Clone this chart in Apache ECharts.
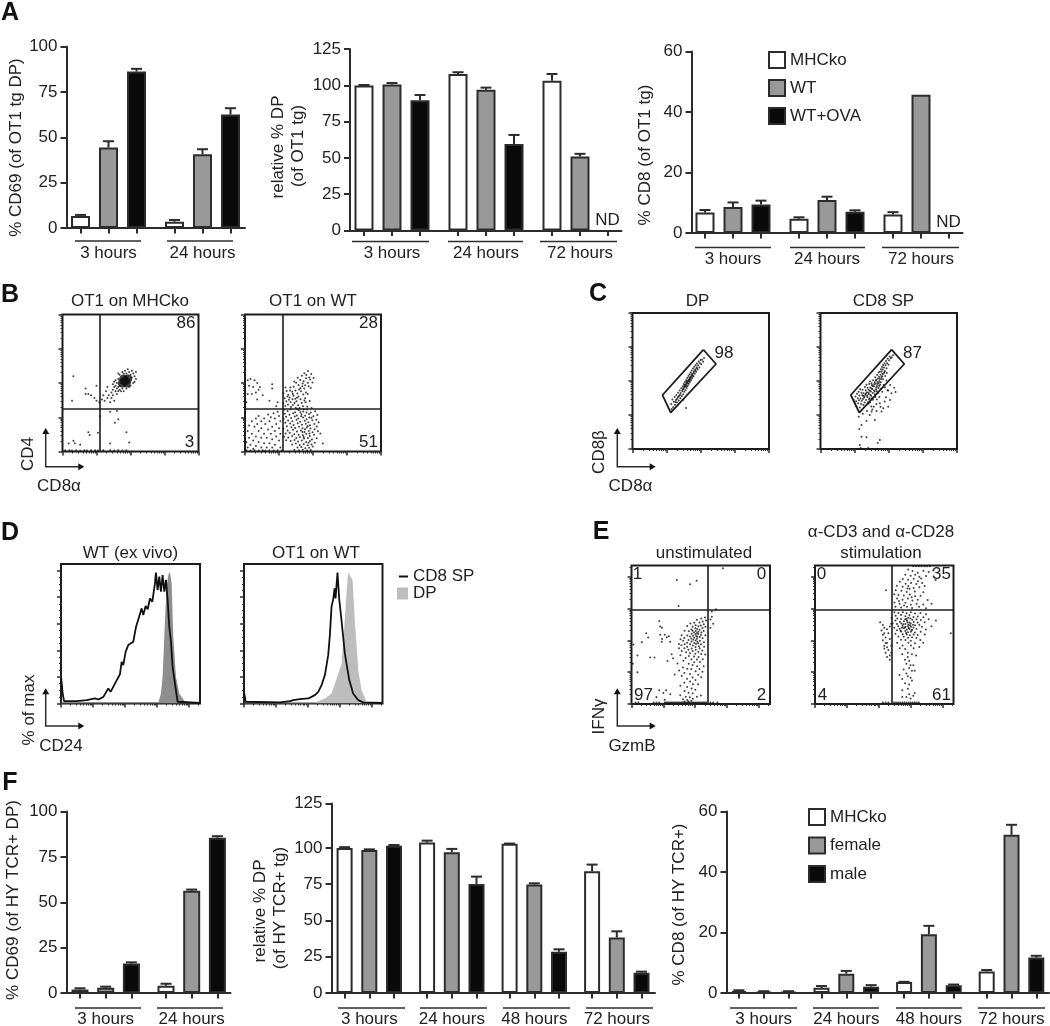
<!DOCTYPE html>
<html>
<head>
<meta charset="utf-8">
<title>OT1 and HY TCR thymocyte panels</title>
<script src="https://cdn.jsdelivr.net/npm/echarts@6/dist/echarts.min.js"></script>
<style>html,body{margin:0;padding:0;background:#fff}#c{width:1050px;height:1026px}</style>
</head>
<body>
<div id="c"></div>
<script>
// ---------- data: panel A ----------
const hoursA1 = ['3 hours', '24 hours'];
const hoursA = ['3 hours', '24 hours', '72 hours'];
const a1Ko = [6.6, 3.5],  a1KoErr = [7.2, 4.4];
const a1Wt = [44.3, 40.6], a1WtErr = [47.8, 43.4];
const a1Ova = [86.2, 62.5], a1OvaErr = [87.7, 66];
const a2Ko = [99.8, 107.8, 103.2], a2KoErr = [100.2, 109, 107.8];
const a2Wt = [100.5, 97, 50.9], a2WtErr = [101.6, 98.4, 52.8];
const a2Ova = [89.7, 59.6, null], a2OvaErr = [93.3, 65.8, null];
const a3Ko = [6.8, 4.7, 6.1], a3KoErr = [7.6, 5.2, 6.9];
const a3Wt = [8.6, 10.9, 45.7], a3WtErr = [10.1, 12, 45.7];
const a3Ova = [9.4, 7, null], a3OvaErr = [10.7, 7.5, null];
// ---------- data: panel F ----------
const hoursF1 = ['3 hours', '24 hours'];
const hoursF = ['3 hours', '24 hours', '48 hours', '72 hours'];
const f1Ko = [1.9, 4], f1KoErr = [2.6, 5.1];
const f1Fem = [2.9, 56.3], f1FemErr = [3.5, 57];
const f1Male = [16.2, 85.5], f1MaleErr = [16.9, 86.4];
const f2Ko = [100, 103.7, 102.8, 83.9], f2KoErr = [100.5, 105, 103, 88.5];
const f2Fem = [98.6, 97, 74.7, 38.2], f2FemErr = [99, 99.3, 75.6, 42.5];
const f2Male = [101.4, 75.2, 28.5, 14], f2MaleErr = [102, 80.2, 30.1, 14.7];
const f3Ko = [0.6, 1.7, 3.6, 7.1], f3KoErr = [0.9, 2.3, 3.7, 7.6];
const f3Fem = [0.4, 6.4, 19.4, 52.3], f3FemErr = [0.6, 7.3, 22.2, 55.6];
const f3Male = [0.4, 2.1, 2.6, 11.7], f3MaleErr = [0.6, 2.6, 2.8, 12.3];
const f2TickValues = [0, 25, 50, 75, 100, 130.6];   // the reference draws its top tick, labelled 125, out of scale
const f2TickLabels = ['0', '25', '50', '75', '100', '125'];

// ---------- data: flow cytometry dots, read as % of each plot's width / height ----------
const b1Core = [[46,51.6],[44,50],[48,53],[45,53],[47,50]];
const b1Dots = [[8,55],[7,37],[17,46],[19,42],[17,42],[21,41],[23.5,39],[25,37],[25,48],[27,36],[29,38],[30,41],[31,37],[32,44],[33,39],[33,47],[34,41],[35,36],[36,43],[36,39],[37,45],[37,41],[38,47],[38,37],[39,44],[39,48],[40,42],[40,46],[40,50],[41,47],[41,44],[41,53],[42,48],[42,45],[42,56],[43,44],[43,50],[44,58],[44,46],[45,44],[45,57],[46,59],[47,46],[47,57],[48,60],[49,47],[49,58],[50,56],[50,48],[51,59],[51,54],[52,50],[52,57],[53,55],[53,51],[54,58],[54,53],[39,52],[38,51],[37,49],[41,57],[35,29],[40,29.5],[38.5,21],[41,23.6],[27.6,25.8],[47,14],[19,14],[20,12],[26,13.6],[9,6],[13,5],[4.5,5.8],[8,7.8],[35,5.8],[49,6.6],[2,1],[5,1],[7,.8],[10,1],[13,.8],[16,1],[18,.8],[21,1],[24,1],[26,.8],[30,1],[35,1],[38,.8],[41,1],[44,.8],[47,1]];
const b2Dots = [[2,52],[4,53],[7,52],[9,50],[3,48],[6,47],[10,45],[11,47],[8,43],[5,42],[13,41],[20,49],[20,46],[2,42],[1,36],[9,38],[18,37],[24,36],[23,33],
[46.3,58.8],[48.7,56.6],[43.6,57.2],[47.2,54.1],[41.8,55.3],[44.9,53.4],[50.4,53.7],[40.6,52.2],[43.1,51.3],[47.9,52.6],[49.6,50.4],[38.7,53.8],[42.4,49.7],[46.2,50.1],[45.1,55.8],[36.2,51.1],[39.4,48.6],[44.3,48.4],[46.8,47.7],[35.8,47.2],[40.7,46.1],[43.5,45.9],[48.3,46.4],[33.4,46.8],[37.1,44.6],[41.2,43.9],[44.8,43.1],[30.6,44.2],[34.7,43.7],[38.5,42.3],[42.9,41.6],[46.1,41.9],[28.3,42.4],[31.9,41.5],[35.6,40.7],[39.3,40.2],[32.8,39.4],[36.9,38.5],[40.8,38.1],[43.7,37.3],[29.2,38.9],[30.4,36.6],[33.5,36.2],[34.9,38.1],[37.8,36.7],[41.7,35.4],[44.6,35.9],[47.5,36.8],[28.1,35.2],[31.6,34.3],[35.2,33.9],[39.1,33.7],[42.6,33.1],[45.8,32.6],[29.7,33.2],[33.8,32.4],[37.3,31.9],[40.1,31.8],[48.9,31.7],[36.4,35.4],[32.2,37.8],[38.2,39.3],[35.1,41.9],[33.1,44.6],[39.8,45.2],[37.6,50.2],[42.1,47.6],[44.2,38.9],[31.2,40.1],[29.8,46.7],
[28.6,30.4],[31.3,29.6],[33.7,30.8],[36.8,28.7],[39.6,30.1],[42.8,29.2],[45.7,30.6],[48.4,28.4],[51.6,29.3],[29.3,27.6],[32.7,26.8],[35.4,27.9],[38.1,26.3],[41.5,27.2],[44.2,26.1],[47.1,27.4],[50.3,25.8],[53.2,26.7],[30.2,25.3],[33.9,24.4],[36.6,25.6],[39.2,24.1],[42.7,24.9],[45.3,23.6],[48.8,24.7],[52.4,23.1],[28.4,23.7],[31.7,22.6],[34.8,22.1],[37.9,23.2],[40.6,21.8],[43.9,22.4],[46.6,21.3],[49.5,22.8],[54.1,21.4],[29.6,20.9],[33.2,20.4],[35.7,19.3],[38.8,20.7],[41.9,19.6],[44.7,20.2],[47.8,19.1],[50.9,20.1],[52.8,18.3],[30.8,18.4],[34.1,17.7],[36.9,17.2],[39.7,18.1],[42.3,16.9],[45.4,17.6],[48.1,16.7],[51.2,16.3],[28.2,16.6],[31.4,15.4],[35.3,15.8],[38.2,14.6],[41.1,15.3],[43.8,14.2],[46.9,14.9],[49.7,14.1],[53.6,14.7],[55.4,13.1],[29.9,13.2],[32.9,13.7],[36.2,12.6],[39.4,12.3],[42.6,11.9],[45.1,12.7],[47.6,11.4],[50.8,12.2],[28.7,10.8],[31.8,10.2],[34.6,11.3],[37.7,9.8],[40.4,10.6],[43.4,9.4],[46.3,9.9],[49.2,8.7],[52.7,9.6],[30.3,8.2],[33.6,7.7],[36.4,8.4],[39.1,7.3],[41.8,8.1],[44.9,6.9],[47.7,7.6],[51.3,6.4],[34.7,5.2],[37.4,5.9],[40.2,4.7],[43.2,5.4],[46.1,4.6],[48.9,5.1],[57.2,5.8],[38.6,2.9],[41.4,3.2],[44.4,2.4],[47.2,2.8],[49.8,3.6],[36.3,1.1],[39.7,.9],[42.5,1.2],[45.6,.8],[48.4,1.1],[43.3,30.9],[45.2,28.4],[41.3,25.7],[46.2,18.6],[44.1,16.3],[47.4,13.2],[43.1,10.6],[46.7,6.3],[42.2,14.2],[40.7,28.6],[38.4,31.1],[47.3,24.9],
[24,29],[21,28],[17,27],[10,26],[25,26],[19,25],[8,24],[14,24],[22,24],[5,22],[12,22],[18,22],[26,22],[9,20],[15,20],[23,20],[3,19],[20,18],[7,18],[12,17],[25,17],[17,16],[2,15],[10,15],[22,15],[5,13],[14,13],[19,13],[26,13],[8,11],[12,10],[23,11],[3,10],[16,10],[20,9],[6,8],[10,7],[25,8],[1,7],[14,6],[18,6],[4,5],[8,4],[22,5],[12,3],[16,3],[2,3],[6,2],[20,3],[26,3],[1,1],[4,.8],[7,1],[10,.8],[13,1],[15,.8],[18,1],[21,.8],[24,1],[27,.8]];
const c1Dots = [[28.4,33.1],[29.2,36.4],[29.8,30.7],[30.3,34.8],[30.9,38.2],[31.2,32.6],[31.8,36.1],[32.1,39.7],[32.6,34.2],[33.1,37.6],[33.4,41.3],[33.9,35.7],[34.2,39.2],[34.6,43.1],[35.1,37.3],[35.3,41.2],[35.7,44.6],[36.1,38.9],[36.4,42.7],[36.8,46.2],[37.1,40.3],[37.3,44.2],[37.6,47.8],[37.9,42.1],[38.2,45.7],[38.4,49.3],[38.8,43.4],[39,47.1],[39.3,50.6],[39.6,44.8],[39.9,48.5],[40.1,52.2],[40.4,46.4],[40.7,50.1],[41,53.6],[41.2,47.9],[41.5,51.3],[41.8,54.9],[42.1,49.2],[42.3,52.8],[42.6,56.3],[42.9,50.7],[43.2,54.1],[43.4,57.8],[43.8,52.2],[44,55.4],[44.3,59.1],[44.7,53.5],[45,57.2],[45.2,60.4],[45.6,55.3],[45.9,58.6],[46.2,61.7],[46.6,56.8],[47,60.1],[47.2,62.9],[47.7,58.4],[48.1,61.6],[48.5,64.3],[49,60],[49.4,63.2],[49.8,65.4],[50.3,62.4],[51,65.7],[51.8,64.2],[52.4,67],
[38.5,46.2],[39.2,47.8],[39.7,49.6],[40.3,49],[40.9,50.6],[41.4,49.8],[41.9,52.3],[42.4,51.7],[43,53],[43.5,54.7],[37.5,45],[36.7,43.6],[38,47],[39.5,46.1],[40.6,48],[42,50.8],[44.1,53.9],[44.8,56],[46,57.6],[47.3,59.2],[34.8,39.9],[33.6,38.4],[32.4,36.6],[31.5,34.5],
[39.2,30.1],[28.7,29.4],[37.2,36.2]];
const c2Dots = [[24.3,36.2],[25.2,33.4],[25.6,38.6],[26.1,35.1],[26.4,31.2],[26.8,40.7],[27.3,37.4],[27.6,33.6],[27.9,42.1],[28.2,35.8],[28.5,39.3],[28.8,30.6],[29.1,44],[29.3,37.1],[29.7,33],[30,41.4],[30.2,35.4],[30.6,39.6],[30.8,43.6],[31.1,36.7],[31.4,32.3],[31.6,41],[32,37.9],[32.3,34.2],[32.5,45.6],[32.9,39.8],[33.1,43.2],[33.4,36],[33.7,47.2],[34,41.7],[34.3,38.2],[34.5,45.1],[34.8,34.4],[35.2,43.6],[35.4,40.4],[35.7,47.8],[36,37.3],[36.2,49.6],[36.5,45.3],[36.9,42.3],[37.1,39.1],[37.4,48.4],[37.7,47],[38,44.1],[38.3,41.2],[38.5,50.5],[38.8,37.8],[39.1,46.2],[39.3,43.1],[39.6,49.1],[39.9,40.3],[40.1,52.7],[40.4,48],[40.7,45.2],[41,50.9],[41.3,42.5],[41.5,54.4],[41.8,47.8],[42.1,51.9],[42.4,44.9],[42.6,56.3],[42.9,53.1],[43.2,50],[43.5,56.8],[43.7,47.2],[44,54.6],[44.3,58.7],[44.5,51.4],[44.8,57],[45.1,60.3],[45.3,53.5],[45.6,58.4],[45.9,61.8],[46.2,55.6],[46.5,59.9],[46.9,63.1],[47.2,57.3],[47.6,61.5],[48,64.7],[48.4,59.4],[48.8,63],[49.2,66.4],[49.8,61.9],[50.2,65.2],[50.7,68],[51.4,66.8],[52.2,67.3],[53.1,69],[38.4,36.2],[36.3,34.1],[40.2,38.3],[42.2,41.1],[44.1,44.3],[46.2,47.1],[35.1,33.2],[37.2,31.3],[41.3,36.4],[43.1,38.2],[45.3,42.1],[47.2,45.3],[49.1,43.2],[48.3,50.4],
[39.4,47.7],[40.6,50.3],[41.7,49.2],[42.7,48.6],[43.4,51.7],[44.6,53],[45.4,55.2],[46.7,56.4],[38.2,46.4],[37.3,44.5],[36.1,42.8],[35.2,41.3],[34.1,39.4],[33.3,40.9],[32.2,38.6],[31.3,38.9],[40.8,43.7],[39.7,42.2],[41.4,46.4],[42.9,46.3],[44.2,49.1],[45.8,51.3],[47.4,53.6],[48.6,55.8],[37.6,37.4],[36.6,39.7],[35.5,36.6],
[28.9,2.9],[29.5,.8],[35,.8],[43.5,6.6],[42,4.5],[30,9],[33.7,8.6],[28.4,14.7],[30,17.6],[28,23.8],[33.7,20.6],[39.9,21.3],[37.4,27.5],[41,28],[44.7,27.5],[49.6,31],[54,45],[49.6,43],[50.9,36],[47,35],[43.5,33.6],[36,25],[39,31],[34,28],[31,26],[46,30],[52,41],[41,33],[38,29],[44,31],[48,38],[51,47],[55,42]];
const e1Dots = [[32.7,89.6],[42.3,86.5],[47,89],[34,70.8],[66,98],[58,66.7],[61,68.5],[57,61],[59,58],[57,55],[58,63],
[7.5,44.6],[10.6,51],[1.4,43],[1,29],[4.3,23],[4.3,35],[13.5,33.5],[16.6,33.5],[20.7,56],[20.7,50],[25.5,48.2],[21.9,45],[24,50],[27,49],[22,47],[28,45],[20,60],[22,55],[12,48],[29,36],[26,31],[30,33],[23,8],[20,10],[25,10],[28,7],[24,3],[18,5],
[50.3,61.7],[53.1,62.4],[47.2,60.8],[51.4,59.6],[53.8,60.2],[45.3,58.7],[49.1,58.9],[52.2,57.6],[42.4,58.2],[46.3,56.8],[50.1,56.6],[53.4,55.7],[40.2,56.4],[44.1,55.7],[48.3,56.2],[51.2,54.8],[46.1,54.7],[43.3,53.8],[47.4,54.1],[49.2,53.6],[52.1,52.7],[38.3,52.8],[41.4,52.6],[44.2,52.9],[46.4,52.7],[48.3,52.2],[50.4,51.7],[45.2,51.6],[47.3,51.2],[43.4,50.7],[46.2,50.4],[48.2,50.6],[50.2,49.8],[53.3,49.6],[36.2,49.7],[40.3,49.4],[44.4,49.3],[46.7,49.1],[47.6,48.6],[49.3,48.3],[42.2,48.7],[45.3,47.8],[38.1,47.6],[43.2,47.3],[47.2,47.1],[51.3,47.4],[35.4,46.7],[41.2,46.2],[44.6,46.4],[46.3,45.8],[49.4,45.7],[37.3,45.6],[43.3,45.2],[47.6,44.9],[40.1,44.3],[45.4,44.1],[48.2,43.8],[52.3,44.6],[34.2,43.4],[38.4,43.2],[42.3,43.1],[46.6,43.3],[50.2,43.2],[36.1,42.4],[44.3,42.2],[48.6,41.7],[40.2,41.3],[46.2,41.2],[52.4,41.4],[34.3,40.3],[38.2,40.2],[43.4,40.1],[49.2,40.3],[41.1,39.2],[46.4,39.1],[51.1,38.7],[36.3,38.3],[44.2,38.2],[48.3,37.6],[39.4,37.3],[42.2,36.6],[46.1,36.2],[50.3,36.1],[53.2,35.7],[35.3,35.2],[41.4,34.7],[45.2,34.3],[48.4,33.9],[39.1,33.2],[43.3,32.4],[47.2,32.2],[51.4,32.3],[37.4,31.3],[45.3,30.2],[49.4,30.3],[33.2,29.2],[41.3,29.1],[44.1,28.2],[47.4,27.3],[52.1,27.2],[37.2,26.3],[40.3,25.4],[43.2,25.2],[49.1,25.3],[34.4,24.2],[46.3,23.7],[51.2,23.3],[38.2,22.3],[42.3,21.7],[48.2,21.2],[31.2,21.3],[36.3,20.3],[44.1,19.2],[50.3,19.3],[40.1,18.2],[46.2,17.3],[42.3,16.2],[38.1,15.3],[44.4,14.2],[48.1,14.3],[35.3,13.2],[40.2,12.3],[43.4,11.2],[46.1,10.2],[38.3,9.3],[41.2,8.2],[44.2,7.8],[35.2,6.4],[39.2,5.3],[42.1,4.8],[47.2,5.3],[50.1,6.2],[37.2,3.4],[40.3,2.9],[43.2,2.3],[44.3,3.8],[38.2,1.8],[41.1,1.8],
[3,1],[5,1],[16,1],[18,1],[20,1],[24,1],[25,1],[26,1],[27,1],[28,1],[29,1],[30,1],[31,1],[32,1],[33,1],[34,1],[35,1],[36,1],[37,1],[38,1],[39,1],[40,1],[41,1],[42,1],[43,1],[44,1],[45,1],[46,1],[47,1],[48,1],[49,1],[50,1],[51,1],[52,1],[53,1],[54,1],[57,1],[59,1],[62,1]];
const e2Dots = [[71,99.5],[73,99.5],[75,99.5],[77,99.5],[79,99.5],[81,99.5],[83,99.5],
[67.3,97.2],[70.4,96.1],[74.2,94.7],[78.3,96.2],[82.1,95.3],[85.4,96.4],[65.2,93.4],[69.1,92.6],[72.4,93.3],[75.3,91.8],[76.6,90.7],[80.2,92.4],[87.1,89.6],[63.4,90.2],[67.2,89.7],[71.3,90.4],[74.4,88.6],[61.2,88.3],[65.4,86.8],[69.3,87.4],[73.2,86.6],[77.4,87.3],[59.1,85.4],[63.3,84.7],[67.4,85.2],[71.2,83.7],[75.3,84.3],[79.2,85.2],[58.3,82.2],[62.4,81.7],[66.2,80.8],[68.3,83.2],[72.1,81.3],[78.2,80.7],[57.2,79.3],[60.3,78.7],[64.1,78.3],[68.4,79.1],[72.3,77.8],[76.2,78.2],[59.3,76.2],[63.2,75.3],[67.1,76.1],[70.3,74.8],[74.2,75.2],[81.3,75.1],[57.4,73.2],[61.1,72.3],[65.3,73.1],[69.2,71.7],[73.4,72.3],[78.1,71.8],[84.2,72.4],[58.1,70.3],[62.2,69.7],[66.4,70.2],[70.1,69.4],[75.2,70.2],[80.1,69.2],[51.2,82.1],[64.3,71.2],[60.6,74.3],[66.7,83.4],[69.8,77.1],
[57.3,66.2],[60.2,65.7],[63.4,66.3],[66.1,65.6],[69.2,66.2],[72.3,65.3],[76.1,65.7],[80.2,64.8],[58.2,63.8],[62.1,64.2],[65.3,63.4],[68.2,64.1],[71.1,62.8],[74.2,63.2],[78.3,62.7],[55.2,62.1],[59.4,61.8],[62.2,61.3],[65.1,61.2],[67.3,62.2],[70.2,60.8],[73.3,61.2],[76.4,60.7],[82.1,61.2],[58.1,60.2],[61.3,59.3],[64.2,59.7],[66.4,60.1],[68.1,58.8],[71.3,59.2],[74.1,58.8],[79.2,59.1],[87.3,60.2],[56.1,58.2],[59.2,57.8],[62.3,58.2],[65.2,57.7],[67.4,57.3],[69.1,58.1],[72.2,56.8],[75.3,57.2],[60.1,56.1],[63.2,56.3],[65.4,55.8],[67.2,56.1],[69.3,55.7],[71.1,55.3],[77.2,55.7],[84.1,56.1],[57.3,55.1],[61.2,54.3],[64.1,54.7],[66.3,53.8],[68.2,54.2],[70.1,53.7],[73.3,54.1],[80.1,53.8],[59.2,53.2],[62.3,52.3],[65.2,52.7],[67.1,51.8],[69.2,52.2],[72.1,51.7],[76.3,52.1],[58.1,50.8],[63.3,50.3],[66.2,50.2],[68.4,49.7],[71.2,50.1],[74.1,49.8],[79.3,50.2],[60.2,48.8],[64.1,48.6],[67.2,47.8],[70.1,48.2],[73.2,47.7],[62.1,46.3],[65.3,46.2],[69.2,45.7],[76.1,46.2],[59.3,44.3],[67.4,44.2],[72.2,43.8],[78.1,44.2],[63.2,42.3],[69.3,42.2],[65.1,39.8],[71.2,40.2],[61.2,40.3],[75.3,41.2],[98,51],[63.7,57.6],[66.8,58.8],[68.7,56.8],[64.8,55.3],[67.7,54.9],[65.8,51.2],[69.7,53.1],[62.8,55.1],[66.2,61.4],[68.8,61.7],[70.7,57.3],[61.7,52.8],
[49,57],[50,55],[52,54],[54,56],[48,53],[50,51],[53,51],[51,48],[49,46],[54,47],[52,44],[50,42],[55,42],[53,39],[51,37],[54,35],[50,40],[52,34],[55,37],[54,32],[52,41],[51,44],[49,50],[47,59],[55,58],
[67,37],[70,36],[63,36],[73,35],[67,34],[65,32],[68,31],[66,29],[69,28],[71,28],[68,26],[64,25],[70,24],[72,24],[66,22],[61,21],[67,20],[69,19],[63,18],[70,17],[65,15],[68,14],[67,11],[63,10],[72,8],[68,7],[66,5],[71,6],[63,5],[69,4],
[49,1],[51,1],[53,1],[57,1],[58.5,1],[60,1],[61.5,1],[63,1],[64.5,1],[66,1],[67.5,1],[69,1],[70.5,1],[72,1],[73.5,1],[75,1]];
// gates in panel C
const c1Gate = [[52,73],[61.2,62.5],[28,26.7],[22,39.7],[52,73]];
const c2Gate = [[52.1,73],[61.4,62.5],[28.4,26.7],[22.2,39.7],[52.1,73]];
// histograms in panel D: [% of axis width, % of max]
const d1Cd8 = [[.2,18.8],[1.2,7.5],[2.2,1.8],[11.3,1.8],[18.5,2.5],[24.5,3.8],[26.9,3],[30.5,5],[34,11.3],[35.7,8.8],[38.8,15],[42.4,22],[43.6,31.4],[44.8,28.9],[46.5,38.9],[48.4,44],[52,46.5],[54,57.8],[55.6,63.3],[58,71.6],[59.2,66.6],[60.9,73.4],[62.4,70.9],[64,79.1],[65.7,76.6],[67.6,90.5],[68.3,98.5],[69.5,85.4],[70.7,95.5],[71.9,84.2],[73.1,96.7],[74.3,84.2],[75.5,93],[76.7,77.9],[77.9,57.8],[79.1,46.5],[80.3,27.6],[82,15],[83.9,1.3],[100,.5]];
const d1Dp = [[0,.5],[70,.5],[71.9,7.5],[73.1,20],[74.8,62.8],[76,88],[77.2,96.7],[78.4,99.2],[79.6,90.5],[80.8,50],[82.7,20],[85.1,7.5],[89.2,1.3],[100,.5]];
const d2Cd8 = [[.2,7.5],[1.2,1.3],[26,.8],[33.2,1.8],[35.6,2.5],[40.4,3.3],[46.4,3.8],[51.2,6.3],[53.6,8.8],[56,13.8],[58.4,21.4],[60.8,36.4],[62,51.5],[63.2,72.9],[64.4,78.4],[65.4,86.7],[66.1,79.1],[67.5,98.5],[68.8,77.9],[70.4,62.8],[72.8,37.7],[76,17.6],[78.8,7.5],[82.5,2.5],[86,.8],[100,.5]];
const d2Dp = [[0,.5],[51.2,.8],[58.4,3.8],[63.2,7.5],[67.3,20],[70.4,30],[72.1,52.8],[74,82.9],[75.2,98.7],[76.9,95.5],[78.4,92.9],[80,62.8],[82.5,25],[84.9,10],[88.5,1.3],[100,.5]];

// ---------- styling ----------
const FONT = 'Liberation Sans, Arial, sans-serif';
const INK = '#222', STROKE = '#2c2c2c';
const WHITE = '#ffffff', GREY = '#999999', BLACK = '#0a0a0a';

const grid = [], xAxis = [], yAxis = [], series = [], graphic = [];

function text(t, x, y, o) {
  o = o || {};
  graphic.push({type:'text', x, y, rotation:o.rot ? Math.PI/2 : 0, silent:true,
    style:{text:t, fill:o.fill||INK, font:(o.bold?'bold ':'')+(o.size||17)+'px '+FONT,
      align:o.align||'center', verticalAlign:'middle'}});
}
function segment(x1,y1,x2,y2,w) {
  graphic.push({type:'line', silent:true, shape:{x1,y1,x2,y2}, style:{stroke:STROKE, lineWidth:w||1.5}});
}
function arrows(x, yBottom, yTop, xRight) {
  graphic.push({type:'polyline', silent:true, shape:{points:[[x,yTop+4],[x,yBottom],[xRight-4,yBottom]]},
    style:{stroke:STROKE, lineWidth:1.5, fill:'none'}});
  graphic.push({type:'polygon', silent:true, shape:{points:[[x-3.5,yTop+6],[x+3.5,yTop+6],[x,yTop]]}, style:{fill:'#111'}});
  graphic.push({type:'polygon', silent:true, shape:{points:[[xRight-6,yBottom-3.5],[xRight-6,yBottom+3.5],[xRight,yBottom]]}, style:{fill:'#111'}});
}

// bar panel: one numeric x axis per panel, with groups at 0,1,2…
function barPanel(c) {
  const g = grid.length;
  grid.push({left:c.left, top:c.top, width:c.right-c.left, height:c.bottom-c.top, containLabel:false, outerBoundsMode:'none'});
  const toIdx = px => (px - c.first) / c.groupPitch;
  const r = c.barPitch / c.groupPitch;
  const ticks = [];
  c.cats.forEach((_, i) => { [-1,0,1].forEach(k => ticks.push(i + k*r)); });
  const labelVals = c.cats.map((_, i) => i);
  const line = {color:STROKE, width:2};
  xAxis.push({gridIndex:g, type:'value', min:toIdx(c.left), max:toIdx(c.right), position:'bottom',
    splitLine:{show:false}, axisLine:{show:true, onZero:false, lineStyle:line},
    axisTick:{show:true, customValues:ticks, length:5.5, lineStyle:line},
    axisLabel:{show:true, customValues:labelVals, margin:c.labelMargin, color:INK, fontSize:17, fontFamily:FONT,
      formatter:v => c.cats[Math.round(v)]}});
  const y = {gridIndex:g, type:'value', min:0, max:c.yMax, position:'left',
    splitLine:{show:false}, axisLine:{show:true, onZero:false, lineStyle:line},
    axisTick:{show:true, length:6, lineStyle:line},
    axisLabel:{show:true, margin:9, color:INK, fontSize:17, fontFamily:FONT}};
  if (c.yTicks) {
    y.axisTick.customValues = c.yTicks;
    y.axisLabel.customValues = c.yTicks;
    y.axisLabel.formatter = v => c.yLabels[c.yTicks.indexOf(v)];
  } else { y.interval = c.yStep; }
  yAxis.push(y);
  c.series.forEach((s, k) => {
    series.push({type:'bar', name:s.name, xAxisIndex:g, yAxisIndex:g, animation:false, silent:true,
      barWidth:c.barW, barGap:((c.barPitch-c.barW)/c.barW*100).toFixed(1)+'%',
      itemStyle:{color:s.color, borderColor:STROKE, borderWidth:2},
      data:s.values.map((v,i) => [i, v])});
    const off = (k-1)*r;
    series.push({type:'custom', name:s.name+' error', xAxisIndex:g, yAxisIndex:g, animation:false, silent:true, clip:false,
      encode:{x:0, y:[1,2]},
      data:s.values.map((v,i) => [i, v, s.errs[i]]),
      renderItem:(p, api) => {
        const v = api.value(1), e = api.value(2);
        if (isNaN(v) || isNaN(e) || e <= v) return null;
        const a = api.coord([api.value(0)+off, v]), b = api.coord([api.value(0)+off, e]);
        const st = {stroke:STROKE, lineWidth:2, fill:null};
        return {type:'group', children:[
          {type:'line', shape:{x1:a[0],y1:a[1],x2:b[0],y2:b[1]}, style:st},
          {type:'line', shape:{x1:b[0]-5.5,y1:b[1],x2:b[0]+5.5,y2:b[1]}, style:st}]};
      }});
  });
}

// log-looking tick positions: major per decade, minor inside it
function minorTicks(dec, n) {
  const out = [];
  for (let d=0; d<n; d++) for (let k=2; k<10; k++) {
    const v = (d + Math.log10(k))*dec; if (v<100) out.push(+v.toFixed(2));
  }
  return out;
}
function majorTicks(dec, n) { const o=[]; for (let d=0;d<=n;d++) if (d*dec<=100) o.push(d*dec); return o; }

function plotAxes(g, xDec, yMajor, yMinor, yMax) {
  const l = {color:STROKE, width:1};
  const base = {gridIndex:g, type:'value', min:0, splitLine:{show:false}, axisLine:{show:false, onZero:false}, axisLabel:{show:false}};
  const xa = xAxis.length;
  xAxis.push({...base, max:100, position:'bottom', axisTick:{show:true, inside:false, length:4, customValues:majorTicks(xDec,4), lineStyle:{color:STROKE,width:1.5}}});
  xAxis.push({...base, max:100, position:'bottom', axisTick:{show:true, length:2, customValues:minorTicks(xDec,5), lineStyle:l}});
  const ya = yAxis.length;
  yAxis.push({...base, max:yMax, position:'left', axisTick:{show:true, length:4, customValues:yMajor, lineStyle:{color:STROKE,width:1.5}}});
  yAxis.push({...base, max:yMax, position:'left', axisTick:{show:true, length:2, customValues:yMinor, lineStyle:l}});
  return {xa, ya};
}
function frame(c) {
  const g = grid.length;
  grid.push({left:c.x, top:c.y, width:c.w, height:c.h, show:true, borderColor:'#1c1c1c', borderWidth:2, backgroundColor:'transparent', outerBoundsMode:'none'});
  return g;
}
function dotPlot(c) {
  const g = frame(c);
  const dec = c.dec || 25;
  const {xa, ya} = plotAxes(g, dec, majorTicks(dec,4), minorTicks(dec,5), 100);
  const s = {type:'scatter', name:c.name, xAxisIndex:xa, yAxisIndex:ya, animation:false, silent:true,
    symbolSize:2, itemStyle:{color:'#111'}, data:c.dots};
  if (c.quad) {
    s.markLine = {silent:true, animation:false, symbol:'none', label:{show:false},
      lineStyle:{color:'#1c1c1c', width:1.6, type:'solid'},
      data:[{xAxis:c.quad[0]},{yAxis:c.quad[1]}]};
  }
  series.push(s);
  if (c.core) series.push({type:'scatter', name:c.name+' core', xAxisIndex:xa, yAxisIndex:ya, animation:false, silent:true,
    symbolSize:9, itemStyle:{color:'#111'}, data:c.core});
  if (c.gate) series.push({type:'line', name:c.name+' gate', xAxisIndex:xa, yAxisIndex:ya, animation:false, silent:true,
    symbol:'none', lineStyle:{color:'#1c1c1c', width:1.8}, data:c.gate});
}
function histPlot(c) {
  const g = frame(c);
  const major = [0,20,40,60,80,100], minor = [10,30,50,70,90,5,15,25,35,45,55,65,75,85,95];
  const {xa, ya} = plotAxes(g, 23, major, minor, 105);
  series.push({type:'line', name:'DP', xAxisIndex:xa, yAxisIndex:ya, animation:false, silent:true, symbol:'none',
    lineStyle:{width:0}, itemStyle:{color:c.dpColor}, areaStyle:{color:c.dpColor, opacity:1}, data:c.dp});
  series.push({type:'line', name:'CD8 SP', xAxisIndex:xa, yAxisIndex:ya, animation:false, silent:true, symbol:'none',
    lineStyle:{color:'#111', width:1.8}, itemStyle:{color:'#111'}, data:c.cd8});
}

// ---------- panel A ----------
barPanel({left:66.5, right:245, top:46.5, bottom:228, yMax:100, yStep:25, first:108.5, groupPitch:94, barPitch:28, barW:19, labelMargin:16.5, cats:hoursA1,
  series:[{name:'MHCko',color:WHITE,values:a1Ko,errs:a1KoErr},{name:'WT',color:GREY,values:a1Wt,errs:a1WtErr},{name:'WT+OVA',color:BLACK,values:a1Ova,errs:a1OvaErr}]});
barPanel({left:350, right:621.5, top:49, bottom:230.5, yMax:125, yStep:25, first:392, groupPitch:94, barPitch:28, barW:19, labelMargin:14.5, cats:hoursA,
  series:[{name:'MHCko',color:WHITE,values:a2Ko,errs:a2KoErr},{name:'WT',color:GREY,values:a2Wt,errs:a2WtErr},{name:'WT+OVA',color:BLACK,values:a2Ova,errs:a2OvaErr}]});
barPanel({left:691.5, right:962.5, top:51.5, bottom:233, yMax:60, yStep:20, first:733, groupPitch:94, barPitch:28, barW:19, labelMargin:17.5, cats:hoursA,
  series:[{name:'MHCko',color:WHITE,values:a3Ko,errs:a3KoErr},{name:'WT',color:GREY,values:a3Wt,errs:a3WtErr},{name:'WT+OVA',color:BLACK,values:a3Ova,errs:a3OvaErr}]});

// ---------- panel F ----------
barPanel({left:66.5, right:230.5, top:811.5, bottom:993, yMax:100, yStep:25, first:105.7, groupPitch:86, barPitch:25.7, barW:17, labelMargin:18, cats:hoursF1,
  series:[{name:'MHCko',color:WHITE,values:f1Ko,errs:f1KoErr},{name:'female',color:GREY,values:f1Fem,errs:f1FemErr},{name:'male',color:BLACK,values:f1Male,errs:f1MaleErr}]});
barPanel({left:331.5, right:655, top:803.5, bottom:993, yMax:130.6, yTicks:f2TickValues, yLabels:f2TickLabels, first:369.3, groupPitch:82.5, barPitch:24.7, barW:16, labelMargin:18, cats:hoursF,
  series:[{name:'MHCko',color:WHITE,values:f2Ko,errs:f2KoErr},{name:'female',color:GREY,values:f2Fem,errs:f2FemErr},{name:'male',color:BLACK,values:f2Male,errs:f2MaleErr}]});
barPanel({left:726.5, right:1049, top:811.5, bottom:993, yMax:60, yStep:20, first:763.7, groupPitch:82.6, barPitch:24.8, barW:16, labelMargin:18, cats:hoursF,
  series:[{name:'MHCko',color:WHITE,values:f3Ko,errs:f3KoErr},{name:'female',color:GREY,values:f3Fem,errs:f3FemErr},{name:'male',color:BLACK,values:f3Male,errs:f3MaleErr}]});

// ---------- flow plots ----------
dotPlot({name:'OT1 on MHCko', x:62.5, y:314.5, w:136, h:137, dots:b1Dots, core:b1Core, quad:[27.2,31.4]});
dotPlot({name:'OT1 on WT', x:245, y:314.5, w:136, h:137, dots:b2Dots, quad:[27.4,31.4]});
dotPlot({name:'DP dots', x:632.5, y:313, w:136.5, h:136, dots:c1Dots, gate:c1Gate});
dotPlot({name:'CD8 SP dots', x:820.5, y:313, w:136.5, h:136, dots:c2Dots, gate:c2Gate});
histPlot({x:61, y:564, w:139, h:139.5, dp:d1Dp, cd8:d1Cd8, dpColor:'#8e8e8e'});
histPlot({x:244, y:564, w:138.5, h:139.5, dp:d2Dp, cd8:d2Cd8, dpColor:'#bdbdbd'});
dotPlot({name:'unstimulated', x:631.5, y:565.5, w:138.5, h:138.5, dec:23, dots:e1Dots, quad:[55.3,68]});
dotPlot({name:'stimulation', x:815, y:565.5, w:138.5, h:138.5, dec:23, dots:e2Dots, quad:[55.3,68]});

// ---------- underlines below the bar groups ----------
[[75,141,241],[167,233,241],[352,429,241.5],[448,523,241.5],[540,617,241.5],[695,771,247.5],[790,865,247.5],[882,959,247.5],
 [75,141,1008],[157,223,1008],[338,405,1008],[420,487,1008],[503,570,1008],[586,653,1008],[730,797,1008],[813,879,1008],[896,962,1008],[978,1045,1008]]
  .forEach(s => segment(s[0], s[2], s[1], s[2], 1.6));

// ---------- text ----------
[['A',10,13],['B',10,295],['C',598,294],['D',10,533],['E',601,532],['F',10,783]].forEach(l => text(l[0], l[1], l[2], {bold:true, size:25, fill:'#111'}));
text('% CD69 (of OT1 tg DP)', 16, 147.5, {rot:true});
text('relative % DP', 278, 147, {rot:true});
text('(of OT1 tg)', 298, 146, {rot:true});
text('% CD8 (of OT1 tg)', 645, 155, {rot:true});
text('ND', 607.5, 220.5);
text('ND', 948.5, 222.5);
text('% CD69 (of HY TCR+ DP)', 13, 900, {rot:true});
text('relative % DP', 260.5, 911, {rot:true});
text('(of HY TCR+ tg)', 280, 908, {rot:true});
text('% CD8 (of HY TCR+)', 679, 904.5, {rot:true});

text('OT1 on MHCko', 130, 301.5);
text('OT1 on WT', 313, 301.5);
text('86', 186, 323.5, {}); text('3', 189.5, 442.5);
text('28', 368.5, 323.5); text('51', 368.5, 442.5);
text('CD4', 28, 454, {rot:true}); text('CD8α', 59, 486.5);
arrows(45.7, 466.7, 428, 84.3);

text('DP', 697.5, 301.5);
text('CD8 SP', 883.5, 301.5);
text('98', 724, 353); text('87', 912.5, 353);
text('CD8β', 599, 452, {rot:true}); text('CD8α', 630.5, 486.5);
arrows(617.3, 466.7, 428, 655.7);

text('WT (ex vivo)', 130.5, 553);
text('OT1 on WT', 316, 553);
text('% of max', 29, 710, {rot:true}); text('CD24', 61, 746.5);
arrows(45.7, 726, 688.3, 84.3);

text('unstimulated', 704, 553.5);
text('α-CD3 and α-CD28', 881, 532.5);
text('stimulation', 881, 553.5);
text('1', 637.5, 574.5); text('0', 761.5, 574.5); text('97', 643.5, 695); text('2', 761.5, 695);
text('0', 821.5, 574.5); text('35', 941.5, 574.5); text('4', 822.5, 695); text('61', 941.5, 695);
text('IFNγ', 599.3, 716.5, {rot:true}); text('GzmB', 632, 746);
arrows(617.3, 726, 688.3, 655.7);

const legendText = {color:INK, fontSize:17, fontFamily:FONT};
const barLegend = {orient:'vertical', padding:0, itemWidth:16, itemHeight:16, itemGap:10, icon:'rect',
  itemStyle:{borderWidth:2, borderColor:STROKE}, textStyle:legendText, selectedMode:false};
const option = {
  animation:false,
  backgroundColor:'#ffffff',
  tooltip:{show:false},
  legend:[
    {...barLegend, left:768, top:51, data:['MHCko','WT','WT+OVA']},
    {...barLegend, left:808, top:808, itemGap:10.5, data:['MHCko','female','male']},
    {orient:'vertical', left:399, top:568, padding:0, itemWidth:9, itemHeight:2, textStyle:legendText, selectedMode:false, icon:'rect',
      data:['CD8 SP']},
    {orient:'vertical', left:397, top:585, padding:0, itemWidth:11, itemHeight:12, textStyle:legendText, selectedMode:false, icon:'rect',
      data:[{name:'DP', itemStyle:{color:'#bdbdbd', borderWidth:0}}]}
  ],
  grid, xAxis, yAxis, series, graphic
};
const chart = echarts.init(document.getElementById('c'), null, {renderer:'canvas', width:1050, height:1026});
chart.setOption(option);
</script>
</body>
</html>
